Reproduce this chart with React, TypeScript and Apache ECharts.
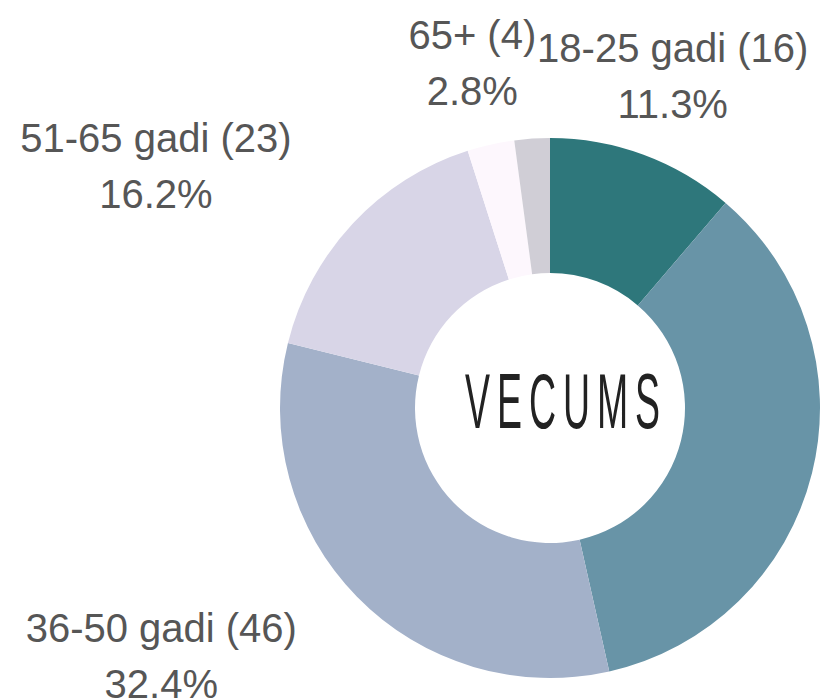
import React, { useEffect, useRef } from "react";
import * as echarts from "echarts";

const categories = ["18-25 gadi", "26-35 gadi", "36-50 gadi", "51-65 gadi", "65+", "Nav norādīts"];
const values = [16, 50, 46, 23, 4, 3];
const colors = ["#2e777b", "#6894a7", "#a3b1c9", "#d8d5e7", "#fdf7fd", "#d0ced6"];
const hiddenLabels = [false, true, false, false, false, true];
const centerTitle = "VECUMS";

const CX = 550;
const CY = 408;
const R_OUT = 270;
const R_IN = 135;
const LABEL_R = 354;

export default function App() {
  const ref = useRef<HTMLDivElement>(null);

  useEffect(() => {
    if (!ref.current) return;
    const chart = echarts.init(ref.current, undefined, { renderer: "svg" });
    const total = values.reduce((a, b) => a + b, 0);

    const midAngle = (idx: number) => {
      let before = 0;
      for (let i = 0; i < idx; i++) before += values[i];
      return ((before + values[idx] / 2) / total) * Math.PI * 2;
    };

    chart.setOption({
      animation: false,
      textStyle: { fontFamily: '"Liberation Sans", Arial, sans-serif' },
      series: [
        {
          type: "pie",
          center: [CX, CY],
          radius: [R_IN, R_OUT],
          startAngle: 90,
          clockwise: true,
          percentPrecision: 1,
          avoidLabelOverlap: false,
          itemStyle: { borderWidth: 0 },
          emphasis: { disabled: true },
          label: {
            show: true,
            position: "outside",
            formatter: "{b} ({c})\n{d}%",
            color: "#565656",
            fontSize: 40,
            lineHeight: 56,
            align: "center",
            fontFamily: '"Liberation Sans", Arial, sans-serif',
          },
          labelLine: { show: false },
          labelLayout: (params: any) => {
            const a = midAngle(params.dataIndex);
            const s = Math.sin(a);
            const c = Math.cos(a);
            const px = CX + LABEL_R * s;
            const y = CY - LABEL_R * c;
            const w = params.labelRect ? params.labelRect.width : 0;
            let x = px;
            if (Math.abs(s) >= 0.45) x = s > 0 ? px + w / 2 : px - w / 2;
            return { x, y, align: "center", verticalAlign: "middle" };
          },
          data: categories.map((name, i) => ({
            name,
            value: values[i],
            itemStyle: { color: colors[i] },
            label: { show: !hiddenLabels[i] },
          })),
        },
      ],
      graphic: [
        {
          type: "text",
          x: 566,
          y: 401,
          scaleX: 0.48,
          style: {
            text: centerTitle,
            font: 'normal 78px "Liberation Sans Narrow", "Liberation Sans", sans-serif',
            fill: "#222222",
            textAlign: "center",
            textVerticalAlign: "middle",
          },
        },
      ],
    });

    const applySpacing = () => {
      if (!ref.current) return;
      ref.current.querySelectorAll("text").forEach((t) => {
        if (t.textContent === centerTitle) t.setAttribute("letter-spacing", "14.5");
      });
    };
    applySpacing();
    chart.on("finished", applySpacing);

    return () => {
      chart.dispose();
    };
  }, []);

  return (
    <div
      ref={ref}
      style={{ position: "absolute", left: 0, top: 0, width: 822, height: 699, background: "#ffffff" }}
    />
  );
}
